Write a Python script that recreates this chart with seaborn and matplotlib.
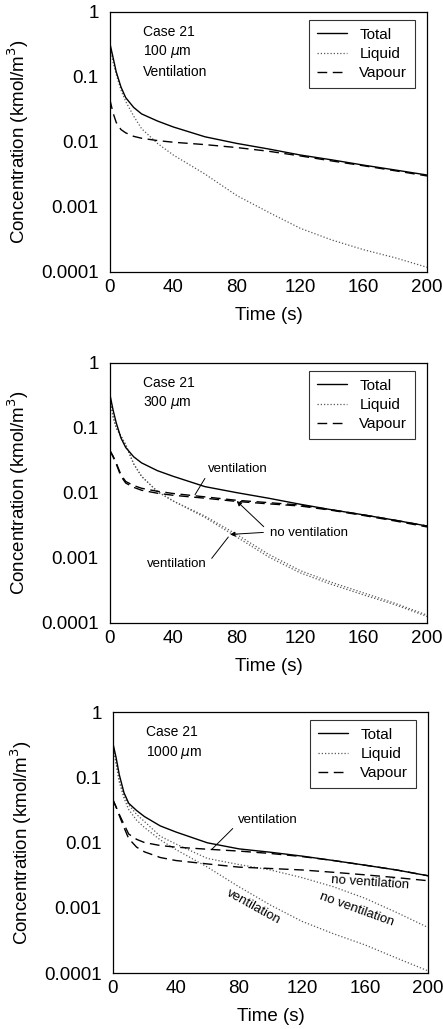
import matplotlib
matplotlib.use("Agg")
import matplotlib.pyplot as plt
import numpy as np
import pandas as pd
import seaborn as sns
from matplotlib.lines import Line2D
from matplotlib.ticker import FixedLocator, MultipleLocator, LogLocator, NullFormatter

# time grid (s)
time_s = [0, 2, 4, 7, 10, 15, 20, 30, 40, 60, 80, 100, 120, 140, 160, 180, 200]

# Case 21, 100 um, ventilation
total_100 = [0.33, 0.2, 0.12, 0.07, 0.048, 0.034, 0.027, 0.021, 0.017, 0.012, 0.0095,
             0.0078, 0.0063, 0.0053, 0.0044, 0.0037, 0.0031]
liquid_100 = [0.3, 0.17, 0.11, 0.063, 0.042, 0.025, 0.016, 0.0095, 0.0063, 0.0032, 0.0015,
              0.00083, 0.00047, 0.00031, 0.00022, 0.000165, 0.000118]
vapour_100 = [0.045, 0.028, 0.02, 0.0155, 0.0138, 0.0122, 0.0114, 0.0105, 0.0099, 0.0091,
              0.0082, 0.0072, 0.0061, 0.0051, 0.0043, 0.0036, 0.003]

# Case 21, 300 um
total_300 = [0.33, 0.19, 0.12, 0.07, 0.05, 0.036, 0.029, 0.022, 0.018, 0.0125, 0.0101,
             0.0083, 0.0067, 0.0055, 0.0046, 0.0038, 0.0031]
liquid_300_vent = [0.3, 0.15, 0.1, 0.075, 0.055, 0.028, 0.018, 0.0105, 0.0075, 0.0042, 0.0021,
                   0.00104, 0.00059, 0.00039, 0.00027, 0.00019, 0.000126]
liquid_300_novent = [0.3, 0.15, 0.1, 0.075, 0.055, 0.028, 0.018, 0.0105, 0.0075, 0.0044, 0.0023,
                     0.00114, 0.00064, 0.00042, 0.00029, 0.0002, 0.000132]
vapour_300_vent = [0.045, 0.037, 0.029, 0.019, 0.015, 0.013, 0.0118, 0.0106, 0.0098, 0.0087,
                   0.0077, 0.0071, 0.0065, 0.0055, 0.0046, 0.0038, 0.0031]
vapour_300_novent = [0.045, 0.036, 0.028, 0.018, 0.0142, 0.0122, 0.011, 0.0099, 0.0092, 0.0083,
                     0.0074, 0.0068, 0.0063, 0.0054, 0.0045, 0.0037, 0.003]

# Case 21, 1000 um
total_1000 = [0.33, 0.2, 0.11, 0.058, 0.04, 0.031, 0.025, 0.018, 0.0145, 0.0099, 0.008,
              0.0071, 0.0062, 0.0053, 0.0045, 0.0038, 0.0031]
liquid_1000_vent = [0.3, 0.16, 0.085, 0.048, 0.032, 0.022, 0.017, 0.011, 0.0078, 0.0042, 0.0021,
                    0.0011, 0.00062, 0.0004, 0.00027, 0.00017, 0.000108]
liquid_1000_novent = [0.3, 0.17, 0.09, 0.052, 0.038, 0.027, 0.021, 0.0125, 0.0095, 0.0057, 0.0046,
                      0.0038, 0.0029, 0.0021, 0.0014, 0.00085, 0.0005]
vapour_1000_vent = [0.045, 0.035, 0.027, 0.019, 0.0135, 0.0112, 0.01, 0.009, 0.0085, 0.0079,
                    0.0074, 0.0068, 0.0061, 0.0053, 0.0045, 0.0038, 0.0031]
vapour_1000_novent = [0.045, 0.035, 0.026, 0.017, 0.0115, 0.0085, 0.0072, 0.0059, 0.0053, 0.0047,
                      0.0042, 0.004, 0.0038, 0.0035, 0.0032, 0.0029, 0.0026]

y_ticks = [1e-4, 1e-3, 1e-2, 1e-1, 1]
y_ticklabels = ["0.0001", "0.001", "0.01", "0.1", "1"]
x_ticks = [0, 40, 80, 120, 160, 200]

sns.set_style("white")
plt.rcParams["font.family"] = ["Liberation Sans", "DejaVu Sans"]
plt.rcParams.update({"text.color": "black", "axes.labelcolor": "black",
                     "xtick.color": "black", "ytick.color": "black"})

TOTAL = dict(color="black", lw=1.0, linestyle="-")
LIQUID = dict(color="0.35", lw=0.9, linestyle=(0, (1, 1.6)))
VAPOUR = dict(color="black", lw=1.0, linestyle=(0, (7, 4)))


def draw(ax, y, style):
    sns.lineplot(x=time_s, y=y, ax=ax, estimator=None, sort=False, **style)


def style_axes(ax, lines):
    ax.set_yscale("log")
    ax.set_xlim(0, 200)
    ax.set_ylim(1e-4, 1)
    ax.yaxis.set_major_locator(FixedLocator(y_ticks))
    ax.set_yticklabels(y_ticklabels)
    ax.yaxis.set_minor_locator(LogLocator(base=10, subs=np.arange(2, 10)))
    ax.yaxis.set_minor_formatter(NullFormatter())
    ax.set_xticks(x_ticks)
    ax.xaxis.set_minor_locator(MultipleLocator(5))
    ax.tick_params(which="both", direction="in", top=False, right=False, labelsize=13.5)
    ax.tick_params(which="major", length=4, width=0.8)
    ax.tick_params(which="minor", length=2, width=0.6)
    ax.tick_params(axis="x", pad=5)
    ax.tick_params(axis="y", pad=8)
    for s in ax.spines.values():
        s.set_visible(True)
        s.set_color("black")
        s.set_linewidth(0.9)
    ax.set_xlabel("Time (s)", fontsize=13.5, labelpad=8)
    ax.set_ylabel("Concentration (kmol/m$^3$)", fontsize=13.5)
    ax.yaxis.set_label_coords(-0.25, 0.5)
    for i, t in enumerate(lines):
        ax.text(0.104, 0.923 - 0.077 * i, t, transform=ax.transAxes, fontsize=10,
                ha="left", va="center")
    handles = [Line2D([], [], **TOTAL), Line2D([], [], **LIQUID), Line2D([], [], **VAPOUR)]
    leg = ax.legend(handles, ["Total", "Liquid", "Vapour"], loc="upper right",
                    bbox_to_anchor=(0.962, 0.969), fontsize=11, frameon=True,
                    fancybox=False, handlelength=2.0, handletextpad=0.8,
                    borderpad=0.5, labelspacing=0.35, borderaxespad=0)
    leg.get_frame().set_edgecolor("black")
    leg.get_frame().set_linewidth(0.8)


fig = plt.figure(figsize=(4.43, 10.29), dpi=100)
ax1 = fig.add_axes([0.248, 0.7357, 0.716, 0.2527])
ax2 = fig.add_axes([0.248, 0.3946, 0.716, 0.2527])
ax3 = fig.add_axes([0.255, 0.0544, 0.711, 0.2536])

# panel 1
draw(ax1, liquid_100, LIQUID)
draw(ax1, vapour_100, VAPOUR)
draw(ax1, total_100, TOTAL)
style_axes(ax1, ["Case 21", "100 $\\mu$m", "Ventilation"])

# panel 2
draw(ax2, liquid_300_vent, LIQUID)
draw(ax2, liquid_300_novent, LIQUID)
draw(ax2, vapour_300_vent, VAPOUR)
draw(ax2, vapour_300_novent, VAPOUR)
draw(ax2, total_300, TOTAL)
style_axes(ax2, ["Case 21", "300 $\\mu$m"])
ann = dict(fontsize=9.5, ha="left", va="center")
ax2.annotate("ventilation", xy=(53.7, 0.0094), xytext=(62, 0.023),
             arrowprops=dict(arrowstyle="-", lw=0.7, color="black", shrinkA=0, shrinkB=0,
                             relpos=(0, 0.2)), **ann)
ax2.annotate("no ventilation", xy=(80, 0.0075), xytext=(101, 0.00245),
             arrowprops=dict(arrowstyle="-|>", lw=0.7, color="black", mutation_scale=7,
                             shrinkA=3, shrinkB=0, relpos=(0, 0.5)), **ann)
ax2.annotate("", xy=(75.8, 0.0023), xytext=(96.8, 0.00247),
             arrowprops=dict(arrowstyle="-|>", lw=0.7, color="black", mutation_scale=7,
                             shrinkA=0, shrinkB=0))
ax2.annotate("ventilation", xy=(74.7, 0.0021), xytext=(23.4, 0.00082),
             arrowprops=dict(arrowstyle="-", lw=0.7, color="black", shrinkA=2, shrinkB=0,
                             relpos=(1, 0.4)), **ann)

# panel 3
draw(ax3, liquid_1000_vent, LIQUID)
draw(ax3, liquid_1000_novent, LIQUID)
draw(ax3, vapour_1000_vent, VAPOUR)
draw(ax3, vapour_1000_novent, VAPOUR)
draw(ax3, total_1000, TOTAL)
style_axes(ax3, ["Case 21", "1000 $\\mu$m"])
ax3.annotate("ventilation", xy=(62.6, 0.0078), xytext=(79.4, 0.0224),
             arrowprops=dict(arrowstyle="-", lw=0.7, color="black", shrinkA=2, shrinkB=0,
                             relpos=(0, 0.2)), **ann)
ax3.text(163, 0.0024, "no ventilation", fontsize=9.5, ha="center", va="center", rotation=-4)
ax3.text(154.7, 0.00093, "no ventilation", fontsize=9.5, ha="center", va="center", rotation=-20)
ax3.text(89, 0.00105, "ventilation", fontsize=9.5, ha="center", va="center", rotation=-29)

fig.savefig("out.png", dpi=100)
